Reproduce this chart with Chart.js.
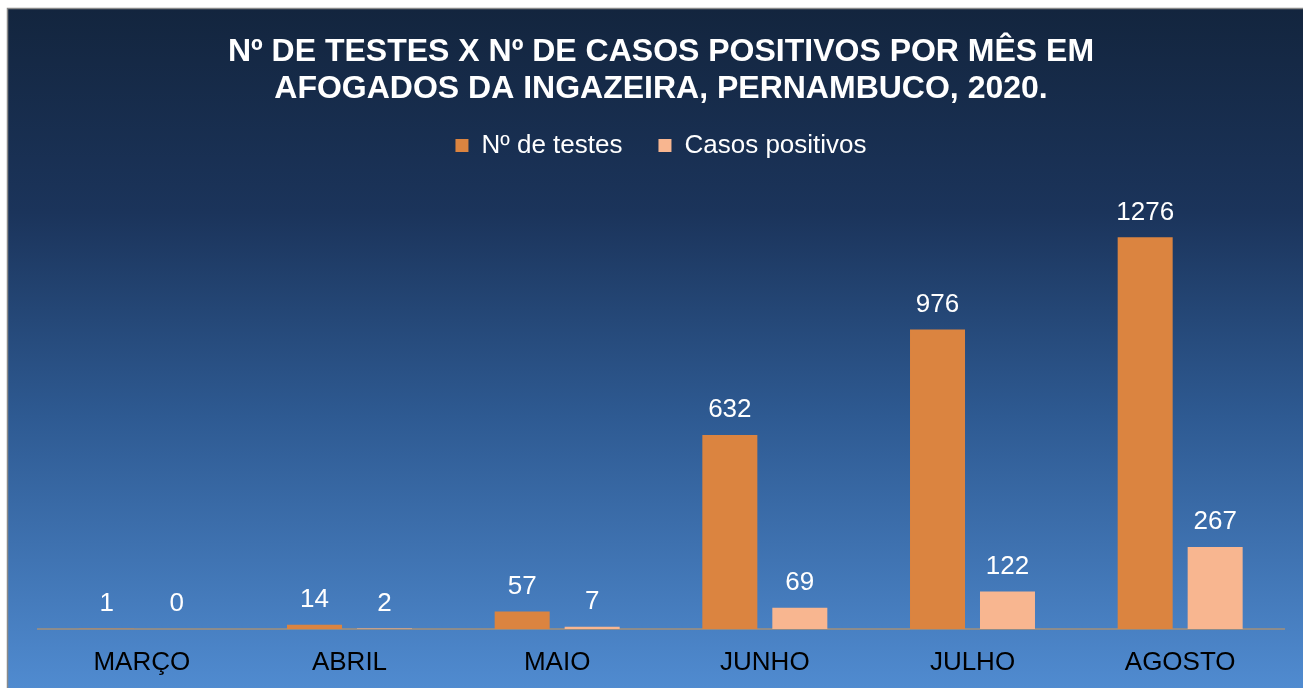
<!DOCTYPE html>
<html>
<head>
<meta charset="utf-8">
<script src="https://cdn.jsdelivr.net/npm/chart.js@4.4.0/dist/chart.umd.min.js"></script>
<style>
  html, body { margin: 0; padding: 0; background: #fff; }
  #wrap { width: 1303px; height: 688px; }
</style>
</head>
<body>
<div id="wrap"><canvas id="casosChart" width="1303" height="688"></canvas></div>
<script>
// data
var months = ['MARÇO', 'ABRIL', 'MAIO', 'JUNHO', 'JULHO', 'AGOSTO'];
var testes = [1, 14, 57, 632, 976, 1276];
var positivos = [0, 2, 7, 69, 122, 267];
var seriesNames = ['Nº de testes', 'Casos positivos'];
var titleLines = ['Nº DE TESTES X Nº DE CASOS POSITIVOS POR MÊS EM', 'AFOGADOS DA INGAZEIRA, PERNAMBUCO, 2020.'];

var fontFamily = '"Liberation Sans", Arial, sans-serif';

// background: white page, grey frame, blue gradient panel
var bgPlugin = {
    id: 'bgPanel',
    beforeDraw: function (chart) {
        var c = chart.ctx;
        c.save();
        c.fillStyle = '#ffffff';
        c.fillRect(0, 0, chart.width, chart.height);
        var g = c.createLinearGradient(0, 9, 0, chart.height);
        g.addColorStop(0, '#13253e');
        g.addColorStop(0.3, '#1b345b');
        g.addColorStop(0.6, '#2e5a92');
        g.addColorStop(1, '#508bd0');
        c.fillStyle = g;
        c.fillRect(8, 9, chart.width - 8, chart.height - 9);
        c.strokeStyle = '#8a8a8a';
        c.lineWidth = 1.5;
        c.beginPath();
        c.moveTo(7.5, chart.height);
        c.lineTo(7.5, 8.5);
        c.lineTo(chart.width, 8.5);
        c.stroke();
        c.restore();
    }
};

// value labels above each bar
var valueLabels = {
    id: 'valueLabels',
    afterDatasetsDraw: function (chart) {
        var c = chart.ctx;
        c.save();
        c.fillStyle = '#ffffff';
        c.font = '26px ' + fontFamily;
        c.textAlign = 'center';
        c.textBaseline = 'middle';
        chart.data.datasets.forEach(function (ds, i) {
            chart.getDatasetMeta(i).data.forEach(function (bar, j) {
                c.fillText(ds.data[j], bar.x, bar.y - 25);
            });
        });
        c.restore();
    }
};

var ctx = document.getElementById('casosChart').getContext('2d');
var casosChart = new Chart(ctx, {
    type: 'bar',
    data: {
        labels: months,
        datasets: [{
            label: seriesNames[0],
            data: testes,
            backgroundColor: '#db8440',
            borderWidth: 0
        }, {
            label: seriesNames[1],
            data: positivos,
            backgroundColor: '#f8b690',
            borderWidth: 0
        }]
    },
    options: {
        responsive: false,
        animation: false,
        categoryPercentage: 0.674,
        barPercentage: 0.786,
        layout: { padding: { left: 38, right: 19, top: 0, bottom: 0 } },
        plugins: {
            title: {
                display: true,
                text: titleLines,
                color: '#ffffff',
                font: { family: fontFamily, size: 32, weight: 'bold', lineHeight: 1.15 },
                padding: { top: 34, bottom: -11 }
            },
            legend: {
                display: true,
                labels: {
                    color: '#ffffff',
                    font: { family: fontFamily, size: 26 },
                    boxWidth: 13,
                    boxHeight: 13,
                    padding: 36
                }
            },
            tooltip: { enabled: false }
        },
        scales: {
            x: {
                grid: { display: false },
                border: { display: true, color: '#8c8c8c', width: 2 },
                ticks: {
                    color: '#000000',
                    font: { family: fontFamily, size: 26 },
                    padding: 10
                },
                afterFit: function (scale) {
                    scale.height = 59;
                }
            },
            y: {
                display: false,
                min: 0,
                max: 1500
            }
        }
    },
    plugins: [bgPlugin, valueLabels]
});
</script>
</body>
</html>
